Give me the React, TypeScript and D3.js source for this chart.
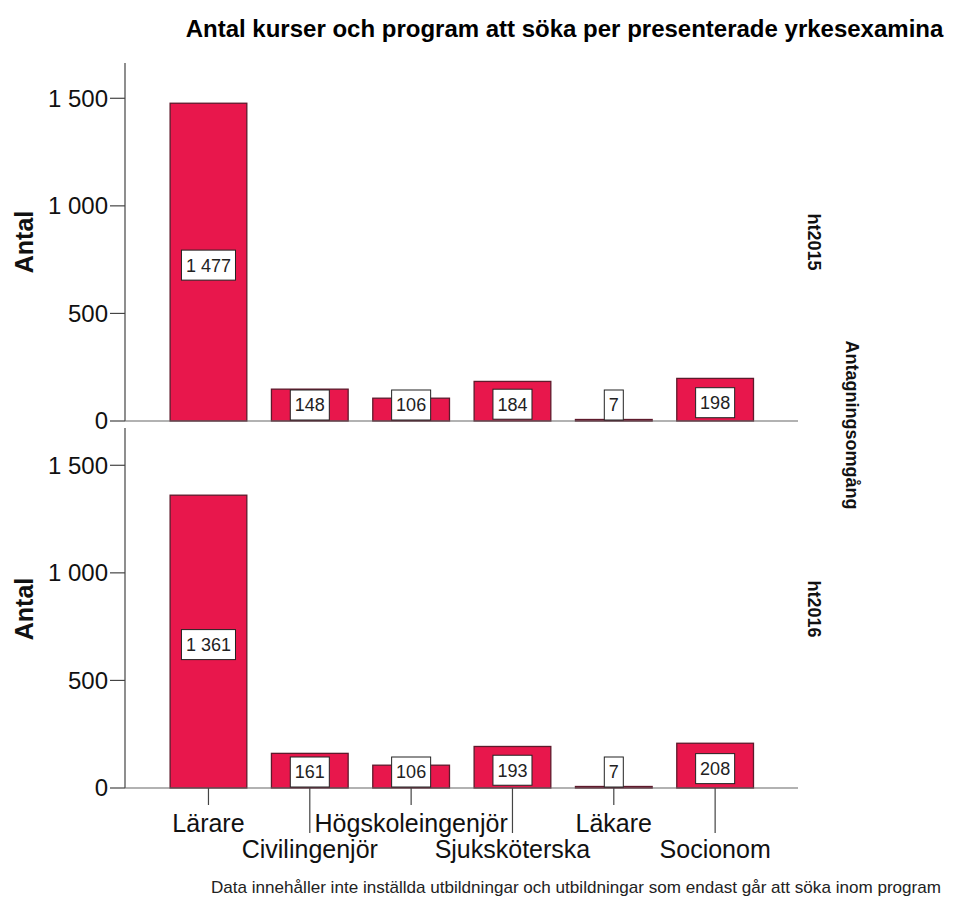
import React from "react";
import * as d3 from "d3";

const categories = ["Lärare", "Civilingenjör", "Högskoleingenjör", "Sjuksköterska", "Läkare", "Socionom"];
const periods = ["ht2015", "ht2016"];
const values2015 = [1477, 148, 106, 184, 7, 198];
const values2016 = [1361, 161, 106, 193, 7, 208];
const yTicks = [0, 500, 1000, 1500];
const title = "Antal kurser och program att söka per presenterade yrkesexamina";
const yTitle = "Antal";
const facetTitle = "Antagningsomgång";
const footnote = "Data innehåller inte inställda utbildningar och utbildningar som endast går att söka inom program";

const W = 955;
const H = 904;
const FONT = "Arial, 'Liberation Sans', Helvetica, sans-serif";
const axisX = 125;
const panelTops = [63, 430];
const panelZeros = [421, 788];
const yMax = 1664;
const lineEnd = 798;

const locale = d3.formatLocale({ decimal: ",", thousands: " ", grouping: [3], currency: ["", " kr"] });
const fmt = locale.format(",d");

const x = d3
  .scaleBand<string>()
  .domain(categories)
  .range([157.8, 765.8])
  .paddingInner(0.243)
  .paddingOuter(0.1215);

function textWidth(s: string, fs: number) {
  let w = 0;
  for (const c of s) w += c === " " ? 0.278 * fs : 0.556 * fs;
  return w;
}

function Panel({ values, idx }: { values: number[]; idx: number }) {
  const top = panelTops[idx];
  const zero = panelZeros[idx];
  const y = d3.scaleLinear().domain([0, yMax]).range([zero, top]);
  const period = periods[idx];
  const midY = (top + zero) / 2;
  const valFs = 18;
  return (
    <g>
      <line x1={axisX} x2={axisX} y1={idx === 0 ? top : top - 2} y2={zero} stroke="#444" strokeWidth={1.2} />
      {yTicks.map((t) => (
        <g key={t}>
          <line x1={axisX - 15} x2={axisX} y1={y(t)} y2={y(t)} stroke="#444" strokeWidth={1.2} />
          <text
            x={axisX - 17}
            y={y(t)}
            dy="0.35em"
            textAnchor="end"
            fontSize={24}
            fontFamily={FONT}
            fill="#111"
          >
            {fmt(t)}
          </text>
        </g>
      ))}
      <text
        transform={`translate(33,${midY}) rotate(-90)`}
        textAnchor="middle"
        fontSize={25}
        fontWeight="bold"
        fontFamily={FONT}
        fill="#111"
      >
        {yTitle}
      </text>
      {categories.map((c, i) => {
        const v = values[i];
        const bx = x(c) as number;
        const bw = x.bandwidth();
        return (
          <rect
            key={c}
            x={bx}
            y={y(v)}
            width={bw}
            height={zero - y(v)}
            fill="#E8174C"
            stroke="#5E1A2C"
            strokeWidth={1.3}
          />
        );
      })}
      <line x1={axisX} x2={lineEnd} y1={zero} y2={zero} stroke="#666" strokeWidth={1.2} />
      {categories.map((c, i) => {
        const v = values[i];
        const cx = (x(c) as number) + x.bandwidth() / 2;
        const mid = (y(v) + zero) / 2;
        const cy = Math.min(mid + 3, zero - 16);
        const label = fmt(v);
        const tw = textWidth(label, valFs);
        const bw = tw + 9;
        return (
          <g key={c}>
            <rect x={cx - bw / 2} y={cy - 15} width={bw} height={30} fill="#fff" stroke="#222" strokeWidth={1} />
            <text
              x={cx}
              y={cy}
              dy="0.36em"
              textAnchor="middle"
              fontSize={valFs}
              fontFamily={FONT}
              fill="#222"
            >
              {label}
            </text>
          </g>
        );
      })}
      <text
        transform={`translate(808,${midY}) rotate(90)`}
        textAnchor="middle"
        fontSize={18}
        fontWeight="bold"
        fontFamily={FONT}
        fill="#111"
      >
        {period}
      </text>
    </g>
  );
}

export default function App() {
  const zeroB = panelZeros[1];
  return (
    <svg
      width={W}
      height={H}
      style={{ position: "absolute", left: 0, top: 0, background: "#fff" }}
      xmlns="http://www.w3.org/2000/svg"
    >
      <rect x={0} y={0} width={W} height={H} fill="#fff" />
      <text x={564.5} y={37} textAnchor="middle" fontSize={24} fontWeight="bold" fontFamily={FONT} fill="#000">
        {title}
      </text>
      <Panel values={values2015} idx={0} />
      <Panel values={values2016} idx={1} />
      <text
        transform={`translate(846,425) rotate(90)`}
        textAnchor="middle"
        fontSize={18}
        fontWeight="bold"
        fontFamily={FONT}
        fill="#111"
      >
        {facetTitle}
      </text>
      {categories.map((c, i) => {
        const cx = (x(c) as number) + x.bandwidth() / 2;
        const row2 = i % 2 === 1;
        return (
          <g key={c}>
            <line x1={cx} x2={cx} y1={zeroB} y2={row2 ? 833 : 805} stroke="#444" strokeWidth={1.2} />
            <text
              x={cx}
              y={row2 ? 858 : 831.5}
              textAnchor="middle"
              fontSize={25}
              fontFamily={FONT}
              fill="#111"
            >
              {c}
            </text>
          </g>
        );
      })}
      <text
        x={941}
        y={893}
        textAnchor="end"
        fontSize={17}
        fontFamily={FONT}
        fill="#222"
        textLength={730}
        lengthAdjust="spacingAndGlyphs"
      >
        {footnote}
      </text>
    </svg>
  );
}
